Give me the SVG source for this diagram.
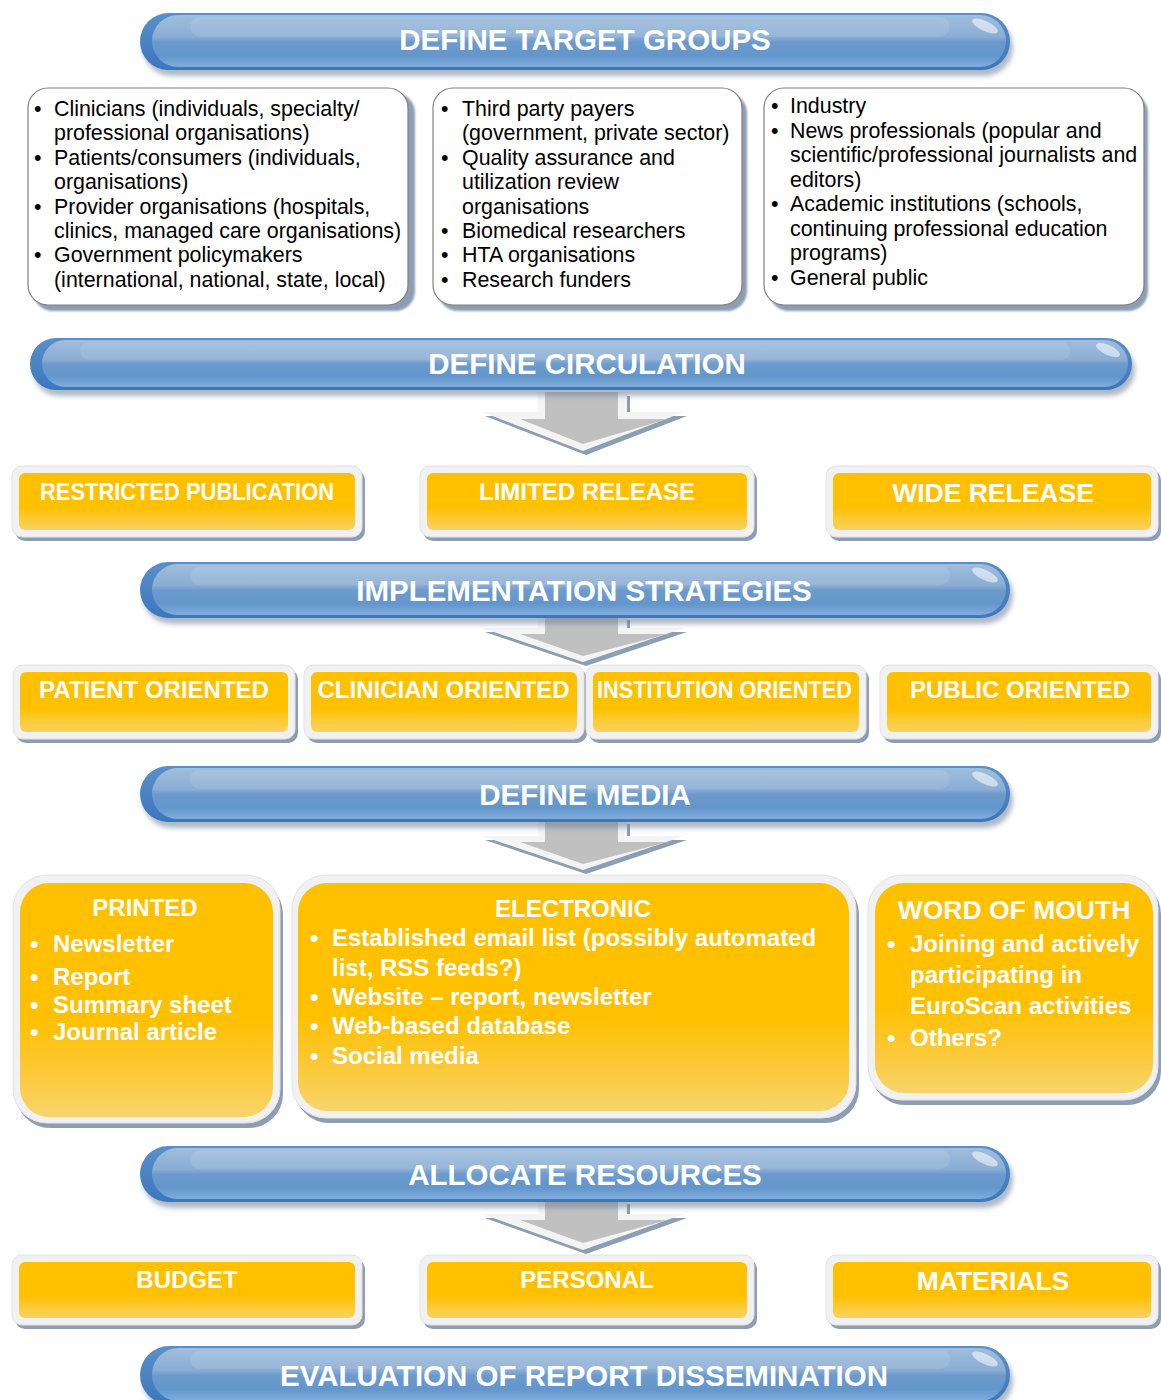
<svg xmlns="http://www.w3.org/2000/svg" width="1161" height="1400" viewBox="0 0 1161 1400">
<defs>
<style>
.bt{font-family:"Liberation Sans",Arial,sans-serif;font-weight:bold;font-size:29.5px;fill:#fff;text-anchor:middle}
.ot{font-family:"Liberation Sans",Arial,sans-serif;font-weight:bold;font-size:24px;fill:#fff;text-anchor:middle}
.ob{font-size:26.5px}
.tx{font-family:"Liberation Sans",Arial,sans-serif;font-size:21.4px;fill:#000}
.mt{font-family:"Liberation Sans",Arial,sans-serif;font-weight:bold;font-size:24px;fill:#fff}
.mh{text-anchor:middle}
.bsh{fill:#6d7f99;opacity:.55;filter:url(#blur)}
.rim{fill:url(#bRim)}
.body{fill:url(#bBody)}
.gl{fill:#fff;opacity:.1}
.hl{fill:#fff;opacity:.55}
.osh{fill:#8d9db3}
.oout{fill:#f1f1f1;stroke:#e3e3e3;stroke-width:1}
.oin{fill:url(#og)}
.min{fill:url(#mg)}
.wsh{fill:#8d9db2;filter:url(#blur2)}
.wb{fill:#fff;stroke:#808080;stroke-width:1.2}
.ash{fill:#8d9db2}
.aw{fill:#f4f4f4}
.ag{fill:#c0c0c0}
</style>
<filter id="blur" x="-5%" y="-30%" width="110%" height="160%"><feGaussianBlur stdDeviation="2.5"/></filter>
<filter id="blur2" x="-5%" y="-5%" width="110%" height="110%"><feGaussianBlur stdDeviation="1.2"/></filter>
<linearGradient id="bRim" x1="0" y1="0" x2="0" y2="1">
<stop offset="0" stop-color="#5a90c9"/><stop offset="1" stop-color="#3a77bd"/>
</linearGradient>
<linearGradient id="bBody" x1="0" y1="0" x2="0" y2="1">
<stop offset="0" stop-color="#a0bedd"/><stop offset="0.42" stop-color="#8aadd4"/><stop offset="0.52" stop-color="#6c9acc"/><stop offset="0.78" stop-color="#6396cc"/><stop offset="1" stop-color="#80addd"/>
</linearGradient>
<linearGradient id="og" x1="0" y1="0" x2="0" y2="1">
<stop offset="0" stop-color="#ffc000"/><stop offset="0.6" stop-color="#ffc000"/><stop offset="0.78" stop-color="#fcc92e"/><stop offset="1" stop-color="#f8d262"/>
</linearGradient>
<linearGradient id="mg" x1="0" y1="0" x2="0" y2="1">
<stop offset="0" stop-color="#ffc000"/><stop offset="0.58" stop-color="#ffc000"/><stop offset="0.8" stop-color="#fcc835"/><stop offset="1" stop-color="#f7d46c"/>
</linearGradient>
</defs>
<rect width="1161" height="1400" fill="#fff"/>

<g id="connectors">
<g id="arrow1">
<polygon class="ash" points="541,396 630,396 630,416 687,416 586,455 485,416 541,416"/>
<polygon class="aw" points="538,392 627,392 627,412 684,412 583,451 482,412 538,412"/>
<polygon class="ag" points="545,392 618,392 618,419 668,419 583,444 520,419 545,419"/>
</g>
<g id="arrow2">
<polygon class="ash" points="541,620 630,620 630,632 687,632 586,666 485,632 541,632"/>
<polygon class="aw" points="538,616 627,616 627,628 684,628 583,662 482,628 538,628"/>
<polygon class="ag" points="545,616 618,616 618,634 668,634 583,656 520,634 545,634"/>
</g>
<g id="arrow3">
<polygon class="ash" points="541,824 630,824 630,840 687,840 586,874 485,840 541,840"/>
<polygon class="aw" points="538,820 627,820 627,836 684,836 583,870 482,836 538,836"/>
<polygon class="ag" points="545,820 618,820 618,842 668,842 583,864 520,842 545,842"/>
</g>
<g id="arrow4">
<polygon class="ash" points="541,1204 630,1204 630,1218 687,1218 586,1254 485,1218 541,1218"/>
<polygon class="aw" points="538,1200 627,1200 627,1214 684,1214 583,1250 482,1214 538,1214"/>
<polygon class="ag" points="545,1200 618,1200 618,1220 668,1220 583,1243 520,1220 545,1220"/>
</g>
</g>

<g id="banner-target-groups">
<rect class="bsh" x="143" y="19" width="870" height="57" rx="28.5"/>
<rect class="rim" x="140" y="13" width="870" height="57" rx="28.5"/>
<rect class="body" x="152" y="15" width="854" height="52" rx="26"/>
<rect class="gl" x="190" y="17" width="760" height="20" rx="10"/>
<ellipse class="hl" cx="985" cy="26" rx="14" ry="5" transform="rotate(25 985 26)"/>
<text class="bt" x="585" y="50">DEFINE TARGET GROUPS</text>
</g>

<g id="box-clinicians">
<rect class="wsh" x="33" y="93" width="382" height="218" rx="20"/>
<rect class="wb" x="28" y="88" width="380" height="217" rx="20"/>
<text class="tx" x="34" y="116">•</text><text class="tx" x="54" y="116">Clinicians (individuals, specialty/</text>
<text class="tx" x="54" y="140.4">professional organisations)</text>
<text class="tx" x="34" y="164.8">•</text><text class="tx" x="54" y="164.8">Patients/consumers (individuals,</text>
<text class="tx" x="54" y="189.2">organisations)</text>
<text class="tx" x="34" y="213.6">•</text><text class="tx" x="54" y="213.6">Provider organisations (hospitals,</text>
<text class="tx" x="54" y="238">clinics, managed care organisations)</text>
<text class="tx" x="34" y="262.4">•</text><text class="tx" x="54" y="262.4">Government policymakers</text>
<text class="tx" x="54" y="286.8">(international, national, state, local)</text>
</g>

<g id="box-payers">
<rect class="wsh" x="438" y="93" width="309" height="218" rx="20"/>
<rect class="wb" x="433" y="88" width="309" height="217" rx="20"/>
<text class="tx" x="441" y="116">•</text><text class="tx" x="462" y="116">Third party payers</text>
<text class="tx" x="462" y="140.4">(government, private sector)</text>
<text class="tx" x="441" y="164.8">•</text><text class="tx" x="462" y="164.8">Quality assurance and</text>
<text class="tx" x="462" y="189.2">utilization review</text>
<text class="tx" x="462" y="213.6">organisations</text>
<text class="tx" x="441" y="238">•</text><text class="tx" x="462" y="238">Biomedical researchers</text>
<text class="tx" x="441" y="262.4">•</text><text class="tx" x="462" y="262.4">HTA organisations</text>
<text class="tx" x="441" y="286.8">•</text><text class="tx" x="462" y="286.8">Research funders</text>
</g>

<g id="box-industry">
<rect class="wsh" x="769" y="93" width="379" height="218" rx="20"/>
<rect class="wb" x="764" y="88" width="380" height="217" rx="20"/>
<text class="tx" x="771" y="113">•</text><text class="tx" x="790" y="113">Industry</text>
<text class="tx" x="771" y="137.5">•</text><text class="tx" x="790" y="137.5">News professionals (popular and</text>
<text class="tx" x="790" y="162">scientific/professional journalists and</text>
<text class="tx" x="790" y="186.5">editors)</text>
<text class="tx" x="771" y="211">•</text><text class="tx" x="790" y="211">Academic institutions (schools,</text>
<text class="tx" x="790" y="235.5">continuing professional education</text>
<text class="tx" x="790" y="260">programs)</text>
<text class="tx" x="771" y="284.5">•</text><text class="tx" x="790" y="284.5">General public</text>
</g>

<g id="banner-circulation">
<rect class="bsh" x="33" y="344" width="1102" height="52" rx="26"/>
<rect class="rim" x="30" y="338" width="1102" height="52" rx="26"/>
<rect class="body" x="42" y="340" width="1086" height="47" rx="23.5"/>
<rect class="gl" x="80" y="342" width="990" height="18" rx="9"/>
<ellipse class="hl" cx="1108" cy="350" rx="13" ry="5" transform="rotate(25 1108 350)"/>
<text class="bt" x="587" y="374">DEFINE CIRCULATION</text>
</g>

<g id="restricted-publication">
<rect class="osh" x="15" y="470" width="350" height="71" rx="10"/>
<rect class="oout" x="12" y="466" width="350" height="71" rx="10"/>
<rect class="oin" x="19" y="473" width="336" height="57" rx="6"/>
<text class="ot" x="187" y="500" textLength="294" lengthAdjust="spacingAndGlyphs">RESTRICTED PUBLICATION</text>
</g>
<g id="limited-release">
<rect class="osh" x="423" y="470" width="334" height="71" rx="10"/>
<rect class="oout" x="420" y="466" width="334" height="71" rx="10"/>
<rect class="oin" x="427" y="473" width="320" height="57" rx="6"/>
<text class="ot" x="587" y="500">LIMITED RELEASE</text>
</g>
<g id="wide-release">
<rect class="osh" x="829" y="470" width="332" height="71" rx="10"/>
<rect class="oout" x="826" y="466" width="332" height="71" rx="10"/>
<rect class="oin" x="833" y="473" width="318" height="57" rx="6"/>
<text class="ot ob" x="993" y="502">WIDE RELEASE</text>
</g>

<g id="banner-implementation">
<rect class="bsh" x="143" y="568" width="870" height="56" rx="28"/>
<rect class="rim" x="140" y="562" width="870" height="56" rx="28"/>
<rect class="body" x="152" y="564" width="854" height="51" rx="25.5"/>
<rect class="gl" x="190" y="566" width="760" height="19" rx="9.5"/>
<ellipse class="hl" cx="985" cy="575" rx="14" ry="5" transform="rotate(25 985 575)"/>
<text class="bt" x="584" y="601">IMPLEMENTATION STRATEGIES</text>
</g>

<g id="patient-oriented">
<rect class="osh" x="16" y="669" width="282" height="74" rx="10"/>
<rect class="oout" x="13" y="665" width="282" height="74" rx="10"/>
<rect class="oin" x="20" y="672" width="268" height="60" rx="6"/>
<text class="ot" x="154" y="698">PATIENT ORIENTED</text>
</g>
<g id="clinician-oriented">
<rect class="osh" x="307" y="669" width="280" height="74" rx="10"/>
<rect class="oout" x="304" y="665" width="280" height="74" rx="10"/>
<rect class="oin" x="311" y="672" width="266" height="60" rx="6"/>
<text class="ot" x="443.5" y="698">CLINICIAN ORIENTED</text>
</g>
<g id="institution-oriented">
<rect class="osh" x="589" y="669" width="280" height="74" rx="10"/>
<rect class="oout" x="586" y="665" width="280" height="74" rx="10"/>
<rect class="oin" x="593" y="672" width="266" height="60" rx="6"/>
<text class="ot" x="724.5" y="698" textLength="255" lengthAdjust="spacingAndGlyphs">INSTITUTION ORIENTED</text>
</g>
<g id="public-oriented">
<rect class="osh" x="883" y="669" width="278" height="74" rx="10"/>
<rect class="oout" x="880" y="665" width="278" height="74" rx="10"/>
<rect class="oin" x="887" y="672" width="264" height="60" rx="6"/>
<text class="ot" x="1020" y="698">PUBLIC ORIENTED</text>
</g>

<g id="banner-media">
<rect class="bsh" x="143" y="772" width="870" height="56" rx="28"/>
<rect class="rim" x="140" y="766" width="870" height="56" rx="28"/>
<rect class="body" x="152" y="768" width="854" height="51" rx="25.5"/>
<rect class="gl" x="190" y="770" width="760" height="19" rx="9.5"/>
<ellipse class="hl" cx="985" cy="779" rx="14" ry="5" transform="rotate(25 985 779)"/>
<text class="bt" x="585" y="805">DEFINE MEDIA</text>
</g>

<g id="printed">
<rect class="osh" x="16" y="880" width="267" height="248" rx="34"/>
<rect class="oout" x="13" y="875" width="267" height="248" rx="34"/>
<rect class="min" x="20" y="883" width="253" height="234" rx="29"/>
<text class="mt mh" x="145" y="916">PRINTED</text>
<text class="mt" x="30" y="952">•</text><text class="mt" x="53" y="952">Newsletter</text>
<text class="mt" x="30" y="985">•</text><text class="mt" x="53" y="985">Report</text>
<text class="mt" x="30" y="1013">•</text><text class="mt" x="53" y="1013">Summary sheet</text>
<text class="mt" x="30" y="1040">•</text><text class="mt" x="53" y="1040">Journal article</text>
</g>

<g id="electronic">
<rect class="osh" x="295" y="880" width="564" height="243" rx="34"/>
<rect class="oout" x="292" y="875" width="564" height="243" rx="34"/>
<rect class="min" x="298" y="883" width="551" height="228" rx="29"/>
<text class="mt mh" x="573" y="917">ELECTRONIC</text>
<text class="mt" x="310" y="946">•</text><text class="mt" x="332" y="946">Established email list (possibly automated</text>
<text class="mt" x="332" y="976">list, RSS feeds?)</text>
<text class="mt" x="310" y="1005">•</text><text class="mt" x="332" y="1005">Website – report, newsletter</text>
<text class="mt" x="310" y="1034">•</text><text class="mt" x="332" y="1034">Web-based database</text>
<text class="mt" x="310" y="1064">•</text><text class="mt" x="332" y="1064">Social media</text>
</g>

<g id="word-of-mouth">
<rect class="osh" x="871" y="880" width="290" height="225" rx="34"/>
<rect class="oout" x="868" y="875" width="290" height="225" rx="34"/>
<rect class="min" x="875" y="883" width="278" height="210" rx="29"/>
<text class="mt mh" x="1014" y="919" style="font-size:26.5px">WORD OF MOUTH</text>
<text class="mt" x="887" y="952">•</text><text class="mt" x="910" y="952">Joining and actively</text>
<text class="mt" x="910" y="983">participating in</text>
<text class="mt" x="910" y="1014">EuroScan activities</text>
<text class="mt" x="887" y="1046">•</text><text class="mt" x="910" y="1046">Others?</text>
</g>

<g id="banner-resources">
<rect class="bsh" x="143" y="1152" width="870" height="56" rx="28"/>
<rect class="rim" x="140" y="1146" width="870" height="56" rx="28"/>
<rect class="body" x="152" y="1148" width="854" height="51" rx="25.5"/>
<rect class="gl" x="190" y="1150" width="760" height="19" rx="9.5"/>
<ellipse class="hl" cx="985" cy="1159" rx="14" ry="5" transform="rotate(25 985 1159)"/>
<text class="bt" x="585" y="1185">ALLOCATE RESOURCES</text>
</g>

<g id="budget">
<rect class="osh" x="15" y="1259" width="350" height="70" rx="10"/>
<rect class="oout" x="12" y="1255" width="350" height="70" rx="10"/>
<rect class="oin" x="19" y="1262" width="336" height="56" rx="6"/>
<text class="ot" x="187" y="1288">BUDGET</text>
</g>
<g id="personal">
<rect class="osh" x="423" y="1259" width="334" height="70" rx="10"/>
<rect class="oout" x="420" y="1255" width="334" height="70" rx="10"/>
<rect class="oin" x="427" y="1262" width="320" height="56" rx="6"/>
<text class="ot" x="587" y="1288">PERSONAL</text>
</g>
<g id="materials">
<rect class="osh" x="829" y="1259" width="332" height="70" rx="10"/>
<rect class="oout" x="826" y="1255" width="332" height="70" rx="10"/>
<rect class="oin" x="833" y="1262" width="318" height="56" rx="6"/>
<text class="ot ob" x="993" y="1290">MATERIALS</text>
</g>

<g id="banner-evaluation">
<rect class="bsh" x="143" y="1352" width="870" height="58" rx="29"/>
<rect class="rim" x="140" y="1346" width="870" height="58" rx="29"/>
<rect class="body" x="152" y="1348" width="854" height="53" rx="26.5"/>
<rect class="gl" x="190" y="1350" width="760" height="19" rx="9.5"/>
<ellipse class="hl" cx="985" cy="1359" rx="14" ry="5" transform="rotate(25 985 1359)"/>
<text class="bt" x="584" y="1386">EVALUATION OF REPORT DISSEMINATION</text>
</g>
</svg>
